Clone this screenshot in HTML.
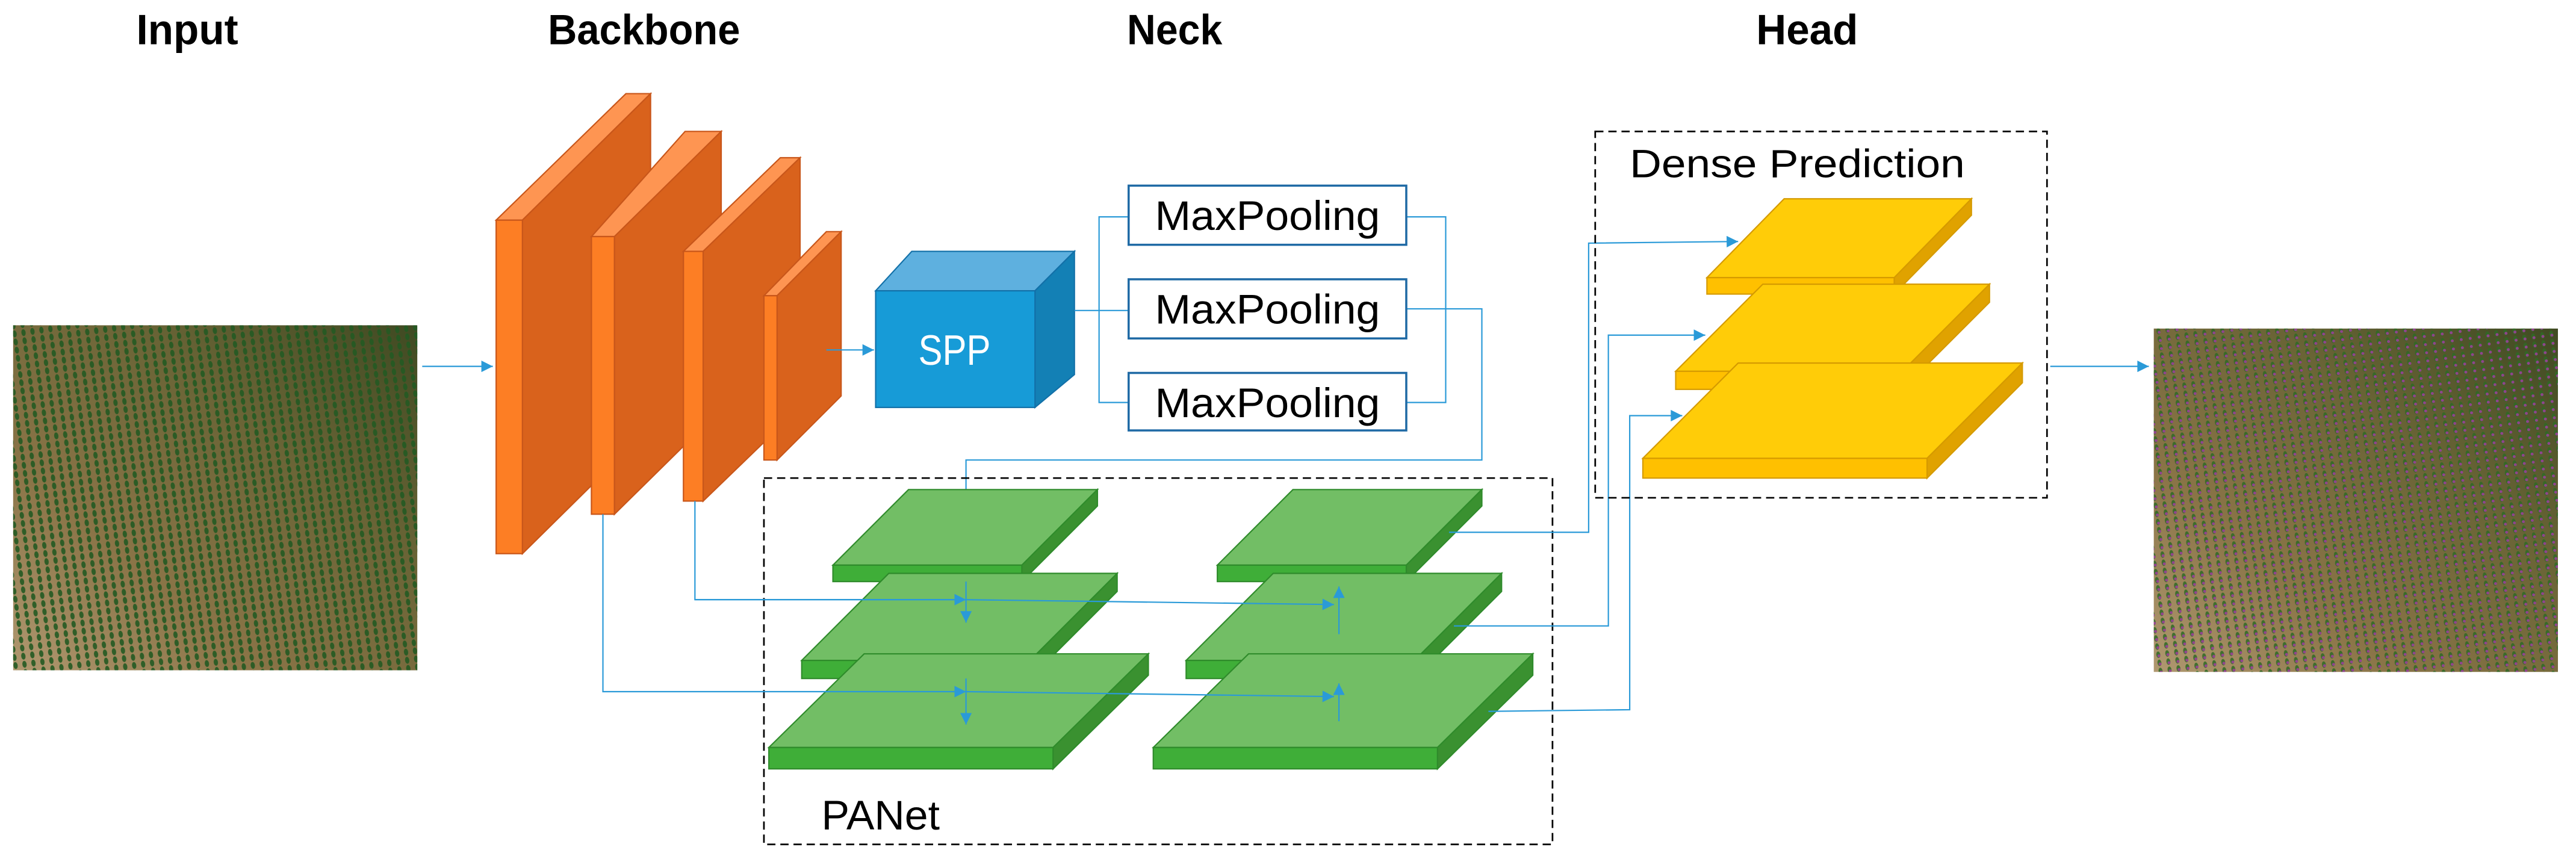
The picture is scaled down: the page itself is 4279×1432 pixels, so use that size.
<!DOCTYPE html>
<html><head><meta charset="utf-8"><style>html,body{margin:0;padding:0;background:#fff}svg{display:block}</style></head>
<body>
<svg width="4279" height="1432" viewBox="0 0 1568 524.7" preserveAspectRatio="none" xmlns="http://www.w3.org/2000/svg">
<defs>
<linearGradient id="gi" x1="0" y1="1" x2="1" y2="0"><stop offset="0" stop-color="#b09870"/><stop offset="0.3" stop-color="#8a7447"/><stop offset="0.65" stop-color="#6a6436"/><stop offset="1" stop-color="#3f4a22"/></linearGradient>
<pattern id="pi" width="5.5" height="5" patternUnits="userSpaceOnUse" patternTransform="rotate(-8)"><ellipse cx="2.5" cy="2.5" rx="1.3" ry="2.1" fill="#235a22" opacity="0.9"/></pattern>
<pattern id="po" width="5.5" height="5" patternUnits="userSpaceOnUse" patternTransform="rotate(-8)"><ellipse cx="2.5" cy="2.5" rx="1.2" ry="2" fill="#2f6a25" opacity="0.85"/><circle cx="2.8" cy="3.2" r="0.9" fill="#a03da0" opacity="0.85"/></pattern>
<marker id="ar" viewBox="0 0 10 10" refX="10" refY="5" markerWidth="8" markerHeight="7" orient="auto" markerUnits="userSpaceOnUse"><path d="M0,0 L10,5 L0,10 z" fill="#2a9ad8"/></marker>
</defs>
<g font-family="'Liberation Sans Narrow','Liberation Sans',sans-serif" font-size="26" font-weight="bold">
<text x="114" y="27" text-anchor="middle" textLength="62" lengthAdjust="spacingAndGlyphs">Input</text>
<text x="392" y="27" text-anchor="middle" textLength="117" lengthAdjust="spacingAndGlyphs">Backbone</text>
<text x="715" y="27" text-anchor="middle" textLength="58" lengthAdjust="spacingAndGlyphs">Neck</text>
<text x="1100" y="27" text-anchor="middle" textLength="62" lengthAdjust="spacingAndGlyphs">Head</text>
</g>
<rect x="8" y="198" width="246" height="210" fill="url(#gi)"/>
<rect x="8" y="198" width="246" height="210" fill="url(#pi)"/>
<rect x="1311" y="200" width="246" height="209" fill="url(#gi)"/>
<rect x="1311" y="200" width="246" height="209" fill="url(#po)"/>
<g stroke="#2a9ad8" stroke-width="0.8" fill="none">
<line x1="257" y1="223" x2="300" y2="223" marker-end="url(#ar)"/>
<line x1="1248" y1="223" x2="1308" y2="223" marker-end="url(#ar)"/>
</g>
<g stroke="#c8561a" stroke-width="0.8">
<polygon points="302,134 381,57 396,57 318,134" fill="#fe9552"/>
<polygon points="318,134 396,57 396,260 318,337" fill="#d9621c"/>
<rect x="302" y="134" width="16" height="203" fill="#fd7e24"/>
<polygon points="360,144 417,80 439,80 374,144" fill="#fe9552"/>
<polygon points="374,144 439,80 439,249 374,313" fill="#d9621c"/>
<rect x="360" y="144" width="14" height="169" fill="#fd7e24"/>
<polygon points="416,153 475,96 487,96 428,153" fill="#fe9552"/>
<polygon points="428,153 487,96 487,248 428,305" fill="#d9621c"/>
<rect x="416" y="153" width="12" height="152" fill="#fd7e24"/>
<polygon points="465,180 503,141 512,141 473,180" fill="#fe9552"/>
<polygon points="473,180 512,141 512,241 473,280" fill="#d9621c"/>
<rect x="465" y="180" width="8" height="100" fill="#fd7e24"/>
</g>
<g stroke="#1270a8" stroke-width="0.8">
<polygon points="533,177 555,153 654,153 630,177" fill="#5eb0df"/>
<polygon points="630,177 654,153 654,228 630,248" fill="#1380b5"/>
<rect x="533" y="177" width="97" height="71" fill="#179bd7"/>
</g>
<text x="581" y="222" font-family="'Liberation Sans Narrow','Liberation Sans',sans-serif" font-size="26" fill="#fff" text-anchor="middle" textLength="44" lengthAdjust="spacingAndGlyphs">SPP</text>
<g stroke="#2a9ad8" stroke-width="0.8" fill="none">
<line x1="503" y1="213" x2="532" y2="213" marker-end="url(#ar)"/>
<polyline points="654,189 687,189"/>
<polyline points="687,132 669,132 669,245 687,245"/>
<polyline points="856,132 880,132 880,245 856,245"/>
<polyline points="856,188 902,188 902,280 588,280 588,322" marker-end="url(#ar)"/>
</g>
<g fill="#fff" stroke="#1f6aa5" stroke-width="1.3">
<rect x="687" y="113" width="169" height="36"/>
<rect x="687" y="170" width="169" height="36"/>
<rect x="687" y="227" width="169" height="35"/>
</g>
<g font-family="'Liberation Sans Narrow','Liberation Sans',sans-serif" font-size="25" fill="#000">
<text x="703" y="140" textLength="137" lengthAdjust="spacingAndGlyphs">MaxPooling</text>
<text x="703" y="197" textLength="137" lengthAdjust="spacingAndGlyphs">MaxPooling</text>
<text x="703" y="254" textLength="137" lengthAdjust="spacingAndGlyphs">MaxPooling</text>
</g>
<rect x="465" y="291" width="480" height="223" fill="none" stroke="#000" stroke-width="1" stroke-dasharray="5,3"/>
<text x="500" y="505" font-family="'Liberation Sans Narrow','Liberation Sans',sans-serif" font-size="25" textLength="72" lengthAdjust="spacingAndGlyphs">PANet</text>
<g stroke="#2f8b2b" stroke-width="0.8">
<g id="gcol">
<polygon points="507,344 553,298 668,298 622,344" fill="#72be65"/>
<polygon points="622,344 668,298 668,308 622,354" fill="#3a9130"/>
<rect x="507" y="344" width="115" height="10" fill="#3fae38"/>
<polygon points="488,402 541,349 680,349 627,402" fill="#72be65"/>
<polygon points="627,402 680,349 680,360 627,413" fill="#3a9130"/>
<rect x="488" y="402" width="139" height="11" fill="#3fae38"/>
<polygon points="468,455 526,398 699,398 641,455" fill="#72be65"/>
<polygon points="641,455 699,398 699,411 641,468" fill="#3a9130"/>
<rect x="468" y="455" width="173" height="13" fill="#3fae38"/>
</g>
<use href="#gcol" transform="translate(234,0)"/>
</g>
<g stroke="#2a9ad8" stroke-width="0.8" fill="none">
<line x1="588" y1="354" x2="588" y2="379" marker-end="url(#ar)"/>
<line x1="588" y1="413" x2="588" y2="441" marker-end="url(#ar)"/>
<line x1="423" y1="365" x2="588" y2="365" marker-end="url(#ar)"/>
<polyline points="423,305 423,365 586,365"/>
<line x1="586" y1="365" x2="812" y2="368" marker-end="url(#ar)"/>
<polyline points="367,313 367,421 588,421" marker-end="url(#ar)"/>
<line x1="588" y1="421" x2="812" y2="424" marker-end="url(#ar)"/>
<line x1="815" y1="386" x2="815" y2="357" marker-end="url(#ar)"/>
<line x1="815" y1="439" x2="815" y2="416" marker-end="url(#ar)"/>
<polyline points="882,324 967,324 967,148 1058,147" marker-end="url(#ar)"/>
<polyline points="885,381 979,381 979,204 1038,204" marker-end="url(#ar)"/>
<polyline points="906,433 992,432 992,253 1024,253" marker-end="url(#ar)"/>
</g>
<rect x="971" y="80" width="275" height="223" fill="none" stroke="#000" stroke-width="1" stroke-dasharray="5,3"/>
<text x="992" y="108" font-family="'Liberation Sans Narrow','Liberation Sans',sans-serif" font-size="24" textLength="204" lengthAdjust="spacingAndGlyphs">Dense Prediction</text>
<g stroke="#d59a00" stroke-width="0.8">
<polygon points="1039,169 1086,121 1200,121 1153,169" fill="#ffcc08"/>
<polygon points="1153,169 1200,121 1200,131 1153,179" fill="#e0a200"/>
<rect x="1039" y="169" width="114" height="10" fill="#ffc000"/>
<polygon points="1020,226 1073,173 1211,173 1158,226" fill="#ffcc08"/>
<polygon points="1158,226 1211,173 1211,184 1158,237" fill="#e0a200"/>
<rect x="1020" y="226" width="138" height="11" fill="#ffc000"/>
<polygon points="1000,279 1058,221 1231,221 1173,279" fill="#ffcc08"/>
<polygon points="1173,279 1231,221 1231,233 1173,291" fill="#e0a200"/>
<rect x="1000" y="279" width="173" height="12" fill="#ffc000"/>
</g>
</svg>
</body></html>
